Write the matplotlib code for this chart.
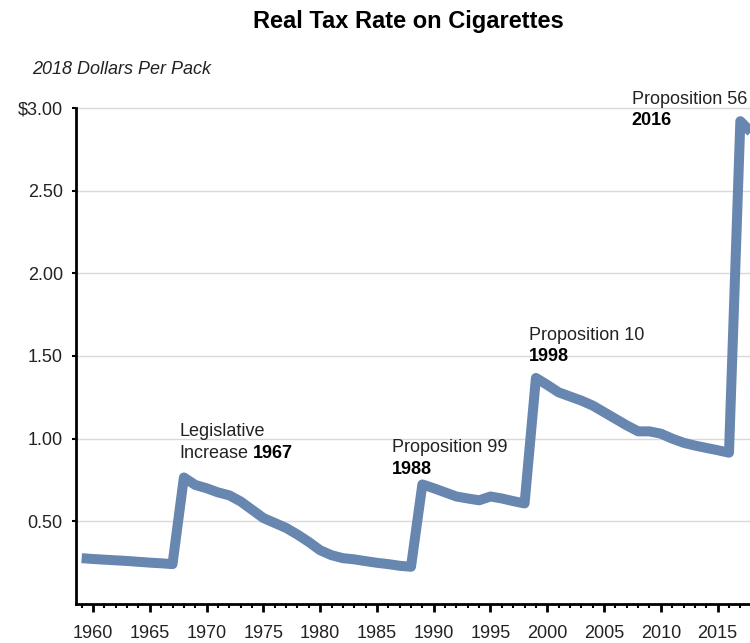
import numpy as np
import matplotlib

matplotlib.use("Agg", force=True)
import matplotlib.pyplot as plt
from matplotlib.ticker import MultipleLocator, FixedLocator

plt.rcParams["font.family"] = ["Liberation Sans", "DejaVu Sans"]

# real tax per pack, 2018 dollars
years = list(range(1959, 2019))
tax = [
    0.277, 0.272, 0.268, 0.264, 0.260, 0.255, 0.250, 0.246, 0.241,  # 1959-1967
    0.765, 0.720, 0.700, 0.675, 0.657, 0.620, 0.570, 0.520, 0.490, 0.460, 0.420,  # 1968-1978
    0.375, 0.325, 0.295, 0.277, 0.270, 0.259, 0.249, 0.241, 0.231, 0.225,  # 1979-1988
    0.723, 0.700, 0.675, 0.650, 0.638, 0.627, 0.650, 0.638, 0.622, 0.608,  # 1989-1998
    1.367, 1.325, 1.280, 1.255, 1.230, 1.200, 1.160, 1.120, 1.080, 1.044,  # 1999-2008
    1.044, 1.030, 1.000, 0.975, 0.958, 0.944, 0.930, 0.915,  # 2009-2016
    2.920, 2.850,  # 2017-2018
]

yticks = [0.5, 1.0, 1.5, 2.0, 2.5, 3.0]
ytick_labels = ["0.50", "1.00", "1.50", "2.00", "2.50", "$3.00"]
xticks = list(range(1960, 2016, 5))

notes = [
    # (year, value, first line, normal part of 2nd line, bold part)
    (1967.64, 1.014, "Legislative", "Increase", "1967"),
    (1986.3, 0.919, "Proposition 99", "", "1988"),
    (1998.41, 1.597, "Proposition 10", "", "1998"),
    (2007.44, 3.025, "Proposition 56", "", "2016"),
]

fig = plt.figure(figsize=(7.5, 6.43), dpi=100)
ax = fig.add_axes([0.1013, 0.0607, 0.8987, 0.7714])

ax.plot(years, tax, color="#6786B0", lw=7.2,
        solid_joinstyle="round", solid_capstyle="butt", zorder=3)

ax.set_xlim(1958.5, 2017.85)
ax.set_ylim(0, 3.0)

ax.xaxis.set_major_locator(FixedLocator(xticks))
ax.xaxis.set_minor_locator(MultipleLocator(1))
ax.set_xticks(xticks)
ax.set_xticklabels([str(x) for x in xticks], fontsize=13, color="#222222")
ax.set_yticks(yticks)
ax.set_yticklabels(ytick_labels, fontsize=13, color="#222222")

ax.tick_params(axis="x", which="major", length=6, width=2, pad=9, direction="out")
ax.tick_params(axis="x", which="minor", length=3, width=1.5, direction="out")
ax.tick_params(axis="y", which="major", length=3, width=1.5, pad=6.5, direction="out")

for y in yticks:
    ax.axhline(y, color="#d9d9d9", lw=1, zorder=1, clip_on=False)

for s in ["top", "right"]:
    ax.spines[s].set_visible(False)
for s in ["left", "bottom"]:
    ax.spines[s].set_linewidth(2)
    ax.spines[s].set_color("black")

fig.text(0.544, 0.957, "Real Tax Rate on Cigarettes", ha="center", va="baseline",
         fontsize=17, fontweight="bold")
fig.text(0.043, 1 - 74 / 643, "2018 Dollars Per Pack", ha="left", va="baseline",
         fontsize=13, style="italic", color="#222222")

line_gap = 0.13
fig.canvas.draw()
renderer = fig.canvas.get_renderer()
for x, y, l1, l2, bold in notes:
    ax.text(x, y, l1, fontsize=13, va="baseline", ha="left", color="#222222", clip_on=False)
    y2 = y - line_gap
    bx = x
    if l2:
        t = ax.text(x, y2, l2, fontsize=13, va="baseline", ha="left", color="#222222", clip_on=False)
        bb = t.get_window_extent(renderer)
        bx = ax.transData.inverted().transform((bb.x1 + 4, 0))[0]
    ax.text(bx, y2, bold, fontsize=13, va="baseline", ha="left", fontweight="bold",
            color="black", clip_on=False)

fig.savefig("out.png", dpi=100)
